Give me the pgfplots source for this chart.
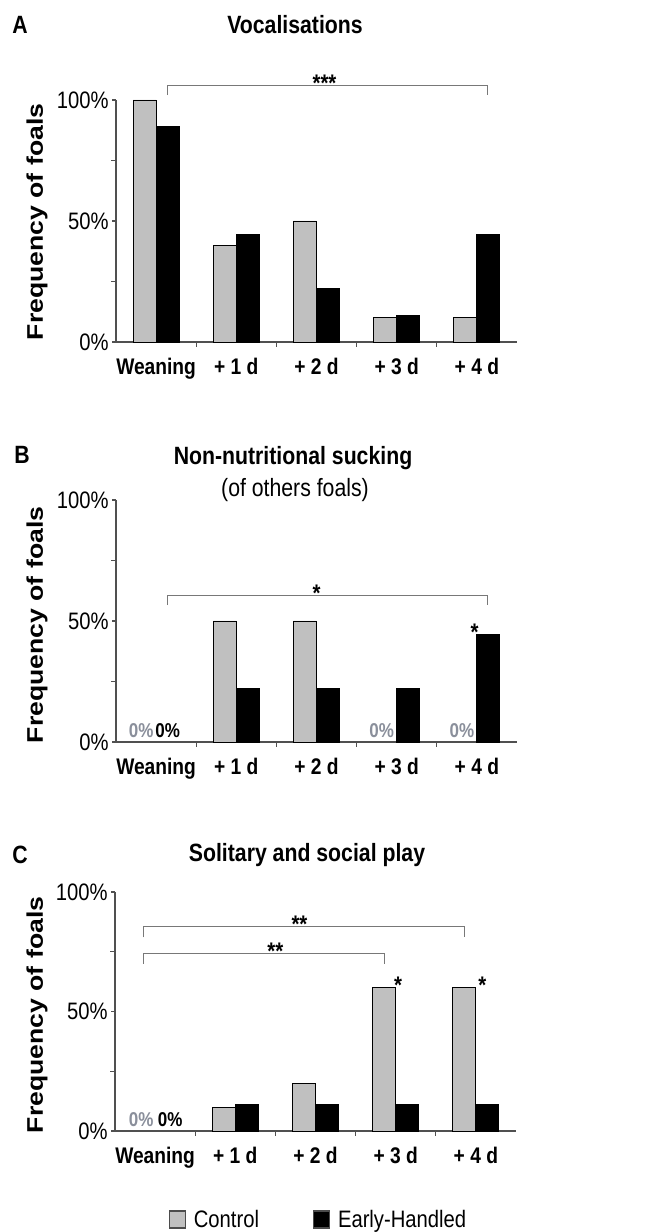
\documentclass[border=0pt]{standalone}
\usepackage{fontspec}
\setmainfont{Liberation Sans}[FakeStretch=0.85]
\newfontfamily\ylabfont{Liberation Sans}
\usepackage{graphicx}
\usepackage{pgfplots}
\pgfplotsset{compat=1.18}
\definecolor{ctrl}{RGB}{192,192,192}
\definecolor{zerogray}{RGB}{138,143,155}
\definecolor{axgray}{RGB}{80,80,80}
\definecolor{brgray}{RGB}{120,120,120}
\tikzset{
  sig/.style={font=\bfseries\fontsize{12}{14}\selectfont, anchor=base, inner sep=0pt, yshift=-3pt},
  zl/.style={font=\bfseries\fontsize{10}{12}\selectfont, anchor=base, inner sep=0pt, yshift=2pt},
  br/.style={brgray, line width=0.5pt},
  ttl/.style={font=\bfseries\fontsize{12.5}{15}\selectfont, inner sep=0pt},
  ylab/.style={rotate=90, inner sep=0pt},
}
\newcommand{\ylabtext}{\scalebox{1}[0.85]{\ylabfont\bfseries\fontsize{13.3}{16}\selectfont Frequency of foals}}
\pgfplotsset{fp/.style={
  scale only axis, width=200.5pt, height=121pt,
  xmin=-0.5, xmax=4.5, ymin=0, ymax=100,
  axis x line*=bottom, axis y line*=left,
  axis line style={axgray, line width=0.6pt, -},
  ybar=0pt, bar width=11.5pt,
  xtick={0,1,2,3,4},
  xticklabels={Weaning,+ 1 d,+ 2 d,+ 3 d,+ 4 d},
  minor xtick={0.5,1.5,2.5,3.5},
  ytick={0,50,100}, yticklabels={0\%,50\%,100\%},
  minor ytick={25,75},
  tick align=outside,
  major tick length=2pt, minor tick length=2.5pt,
  tick style={axgray, line width=0.6pt},
  major x tick style={draw=none},
  x tick label style={font=\bfseries\fontsize{11.3}{13}\selectfont, inner sep=0pt, yshift=-6pt},
  y tick label style={font=\fontsize{11.9}{14}\selectfont, inner sep=0pt, xshift=-1.5pt},
  clip=false,
  legend image code/.code={\draw[#1, draw=black!70, line width=0.6pt] (0pt,-4pt) rectangle (8pt,4.5pt); \path (10pt,0pt);},
}}
\begin{document}
\begin{tikzpicture}
\path[use as bounding box] (0,0) rectangle (326pt,616pt);
% ---------------- Panel A
\begin{axis}[fp, at={(58pt,445pt)}, anchor=south west]
\addplot[fill=ctrl, draw=black, line width=0.4pt] coordinates {(0,100) (1,40) (2,50) (3,10) (4,10)};
\addplot[fill=black, draw=black, line width=0.4pt] coordinates {(0,88.9) (1,44.4) (2,22.2) (3,11.1) (4,44.4)};
\draw[br] (axis cs:0.145,102) -- (axis cs:0.145,106) -- (axis cs:4.13,106) -- (axis cs:4.13,102);
\node[sig] at (axis cs:2.1,106) {***};
\end{axis}
% ---------------- Panel B
\begin{axis}[fp, at={(58pt,245pt)}, anchor=south west]
\addplot[fill=ctrl, draw=black, line width=0.4pt] coordinates {(1,50) (2,50)};
\addplot[fill=black, draw=black, line width=0.4pt] coordinates {(1,22.2) (2,22.2) (3,22.2) (4,44.4)};
\draw[br] (axis cs:0.145,56.6) -- (axis cs:0.145,60.7) -- (axis cs:4.13,60.7) -- (axis cs:4.13,56.6);
\node[sig] at (axis cs:2.0,60.7) {*};
\node[sig] at (axis cs:3.97,44.4) {*};
\node[zl, zerogray, xshift=-7.5pt] at (axis cs:0,0) {0\%};
\node[zl, xshift=5.75pt] at (axis cs:0,0) {0\%};
\node[zl, zerogray, xshift=-7.5pt] at (axis cs:3,0) {0\%};
\node[zl, zerogray, xshift=-7.5pt] at (axis cs:4,0) {0\%};
\end{axis}
% ---------------- Panel C
\begin{axis}[fp, at={(57.5pt,50.5pt)}, anchor=south west, height=119.5pt,
  legend style={at={(0.51,-0.372)}, anchor=center, draw=none, fill=none,
    legend columns=2, font=\fontsize{11.9}{14}\selectfont,
    /tikz/every even column/.append style={column sep=25pt}}]
\addplot[fill=ctrl, draw=black, line width=0.4pt] coordinates {(1,10) (2,20) (3,60) (4,60)};
\addplot[fill=black, draw=black, line width=0.4pt] coordinates {(1,11.1) (2,11.1) (3,11.1) (4,11.1)};
\legend{Control,Early-Handled}
\draw[br] (axis cs:-0.145,81) -- (axis cs:-0.145,85.6) -- (axis cs:3.855,85.6) -- (axis cs:3.855,81);
\node[sig] at (axis cs:1.8,85.6) {**};
\draw[br] (axis cs:-0.145,70) -- (axis cs:-0.145,74.2) -- (axis cs:2.855,74.2) -- (axis cs:2.855,70);
\node[sig] at (axis cs:1.5,74.2) {**};
\node[sig] at (axis cs:3.03,60) {*};
\node[sig] at (axis cs:4.08,60) {*};
\node[zl, zerogray, xshift=-7pt] at (axis cs:0,0) {0\%};
\node[zl, xshift=7.5pt] at (axis cs:0,0) {0\%};
\end{axis}
% ---------------- Titles and labels
\node[ttl] at (10pt,603.5pt) {A};
\node[ttl] at (147.5pt,603.5pt) {Vocalisations};
\node[ttl] at (11pt,388.5pt) {B};
\node[ttl] at (146.5pt,387pt) {Non-nutritional sucking};
\node[inner sep=0pt, font=\fontsize{12.5}{15}\selectfont] at (147.5pt,371pt) {(of others foals)};
\node[ttl] at (10pt,188.5pt) {C};
\node[ttl] at (153.5pt,188.5pt) {Solitary and social play};
\node[ylab] at (18.5pt,505pt) {\ylabtext};
\node[ylab] at (18.5pt,303.5pt) {\ylabtext};
\node[ylab] at (18.5pt,108.5pt) {\ylabtext};
\end{tikzpicture}
\end{document}
